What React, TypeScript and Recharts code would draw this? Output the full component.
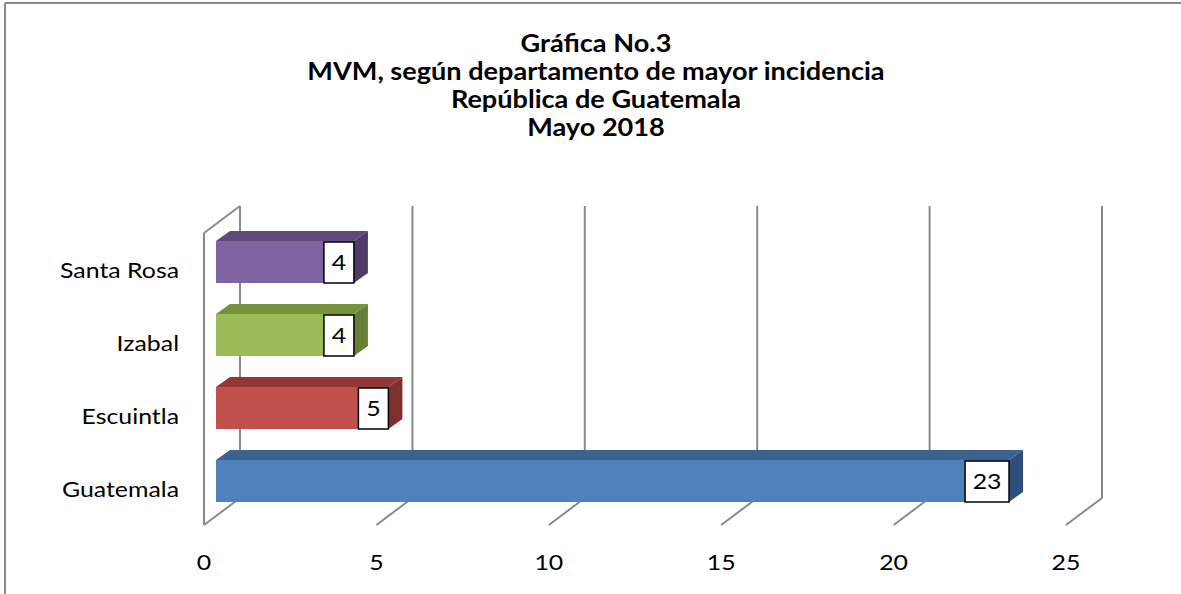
import React from 'react';
import { BarChart, Bar, XAxis, YAxis, CartesianGrid, Cell, LabelList } from 'recharts';

const categories = ['Santa Rosa', 'Izabal', 'Escuintla', 'Guatemala'];
const values = [4, 4, 5, 23];
const xTicks = [0, 5, 10, 15, 20, 25];
const titleLines = ['Gráfica No.3', 'MVM, según departamento de mayor incidencia', 'República de Guatemala', 'Mayo 2018'];

const frontColors = ['#8064A2', '#9BBB59', '#C0504D', '#4F81BD'];
const topColors = ['#604A7B', '#76923C', '#943634', '#3C6290'];
const sideColors = ['#4F3D68', '#667F34', '#7E302E', '#2F4F7A'];

const data = categories.map((name, i) => ({ name, value: values[i], idx: i }));

const FONT = 'Lato, "Open Sans", sans-serif';
const SX = 1.13;
const DEPTH_X = 36;
const DEPTH_Y = -27;
const BAR_OX = 12;
const BAR_OY = -8;
const BAR_DX = 14;
const BAR_DY = -10;
const GRID = '#8A8A8A';

const SText = ({ x, y, anchor, size, bold, children }: any) => (
  <text
    transform={`translate(${x},${y}) scale(${SX},1)`}
    x={0}
    y={0}
    textAnchor={anchor}
    fontSize={size}
    fontWeight={bold ? 'bold' : 'normal'}
    fontFamily={FONT}
    fill="#000"
  >
    {children}
  </text>
);

const Bar3D = (props: any) => {
  const { x, y, width, height, idx } = props;
  if (width == null || height == null) return null;
  const fx = x + BAR_OX;
  const fy = y + BAR_OY;
  const i = idx ?? props.payload?.idx ?? 0;
  return (
    <g>
      <polygon
        points={`${fx},${fy} ${fx + BAR_DX},${fy + BAR_DY} ${fx + width + BAR_DX},${fy + BAR_DY} ${fx + width},${fy}`}
        fill={topColors[i]}
      />
      <polygon
        points={`${fx + width},${fy} ${fx + width + BAR_DX},${fy + BAR_DY} ${fx + width + BAR_DX},${fy + BAR_DY + height} ${fx + width},${fy + height}`}
        fill={sideColors[i]}
      />
      <rect x={fx} y={fy} width={width} height={height} fill={frontColors[i]} />
    </g>
  );
};

const ValueBox = (props: any) => {
  const { x, y, width, height, value } = props;
  const txt = String(value);
  const w = txt.length > 1 ? 44 : 30;
  const right = x + BAR_OX + width;
  const top = y + BAR_OY;
  return (
    <g>
      <rect x={right - w} y={top + 1} width={w} height={height - 1} fill="#fff" stroke="#000" strokeWidth={1.5} />
      <SText x={right - w / 2} y={top + height / 2 + 8} anchor="middle" size={22}>
        {txt}
      </SText>
    </g>
  );
};

const gridLine = (props: any) => {
  const { x1, y1, y2, index } = props;
  const fx = x1;
  const top = Math.min(y1, y2);
  const bottom = Math.max(y1, y2);
  const bx = fx + DEPTH_X;
  return (
    <g key={`vg-${index}-${fx}`}>
      <line x1={bx} y1={top + DEPTH_Y} x2={bx} y2={bottom + DEPTH_Y} stroke={GRID} strokeWidth={2} />
      <line x1={fx} y1={bottom} x2={bx} y2={bottom + DEPTH_Y} stroke={GRID} strokeWidth={2} />
      {index === 0 || fx < 220 ? (
        <>
          <line x1={fx} y1={top} x2={fx} y2={bottom} stroke={GRID} strokeWidth={2} />
          <line x1={fx} y1={top} x2={bx} y2={top + DEPTH_Y} stroke={GRID} strokeWidth={2} />
        </>
      ) : null}
    </g>
  );
};

const XTick = (props: any) => {
  const { x, payload } = props;
  return (
    <SText x={x} y={570} anchor="middle" size={22}>
      {payload.value}
    </SText>
  );
};

const YTick = (props: any) => {
  const { y, payload } = props;
  return (
    <SText x={179} y={y + 8} anchor="end" size={22}>
      {payload.value}
    </SText>
  );
};

export default function App() {
  return (
    <div style={{ position: 'absolute', left: 0, top: 0, width: 1181, height: 594, background: '#fff' }}>
      <svg width={1181} height={594} style={{ position: 'absolute', left: 0, top: 0 }}>
        <line x1={5} y1={3} x2={1181} y2={3} stroke="#8A8A8A" strokeWidth={2} />
        <line x1={5} y1={3} x2={5} y2={594} stroke="#8A8A8A" strokeWidth={2} />
        {titleLines.map((t, i) => (
          <SText key={t} x={596} y={52 + i * 28} anchor="middle" size={24} bold>
            {t}
          </SText>
        ))}
      </svg>
      <div style={{ position: 'absolute', left: 0, top: 0 }}>
        <BarChart
          width={1181}
          height={594}
          data={data}
          layout="vertical"
          margin={{ top: 233, right: 115, bottom: 29, left: 54 }}
          barSize={42}
        >
          <CartesianGrid horizontal={false} vertical={gridLine as any} />
          <XAxis
            type="number"
            domain={[0, 25]}
            ticks={xTicks}
            axisLine={false}
            tickLine={false}
            tick={<XTick />}
            height={40}
            interval={0}
          />
          <YAxis
            type="category"
            dataKey="name"
            axisLine={false}
            tickLine={false}
            tick={<YTick />}
            width={150}
            interval={0}
          />
          <Bar dataKey="value" isAnimationActive={false} shape={<Bar3D />}>
            {data.map((d, i) => (
              <Cell key={d.name} fill={frontColors[i]} />
            ))}
            <LabelList dataKey="value" content={<ValueBox />} />
          </Bar>
        </BarChart>
      </div>
    </div>
  );
}
